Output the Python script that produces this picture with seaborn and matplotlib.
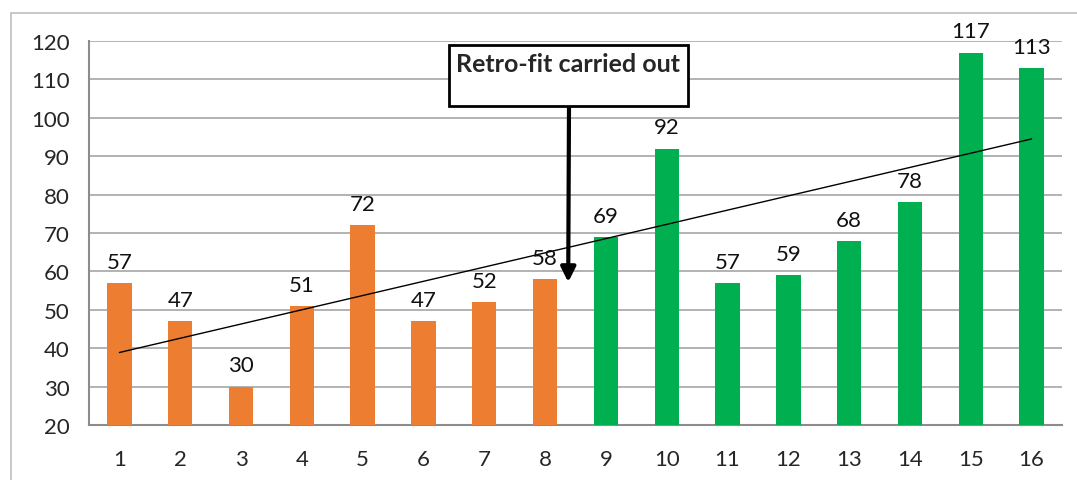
import numpy as np
import pandas as pd
import matplotlib
matplotlib.use("Agg")
import matplotlib.pyplot as plt
from matplotlib.patches import Rectangle
import seaborn as sns

# Monthly readings, before and after the retro-fit
periods = ["1", "2", "3", "4", "5", "6", "7", "8",
           "9", "10", "11", "12", "13", "14", "15", "16"]
values = [57, 47, 30, 51, 72, 47, 52, 58, 69, 92, 57, 59, 68, 78, 117, 113]
phase = ["Before"] * 8 + ["After"] * 8
phase_colors = {"Before": "#ED7D31", "After": "#00B050"}

y_ticks = [20, 30, 40, 50, 60, 70, 80, 90, 100, 110, 120]
annotation_text = "Retro-fit carried out"

df = pd.DataFrame({"period": periods, "value": values, "phase": phase})

sns.set_theme(style="white")
plt.rcParams["font.family"] = ["Lato", "DejaVu Sans"]

fig = plt.figure(figsize=(10.77, 4.81), dpi=100)
ax = fig.add_axes([89 / 1077, 1 - 426 / 481, (1062 - 89) / 1077, (426 - 42) / 481])

# Light frame around the chart area
fig.patches.append(Rectangle((11 / 1077, -0.1), 1.2, 1 - 14 / 481 + 0.1,
                             transform=fig.transFigure, fill=False,
                             edgecolor="#bfbfbf", linewidth=1.2, zorder=0))

sns.barplot(data=df, x="period", y="value", hue="phase", palette=phase_colors,
            dodge=False, width=0.4, legend=False, ax=ax, zorder=3,
            edgecolor="none", saturation=1)

# Linear trend over all periods
xs = np.arange(len(values))
slope, intercept = np.polyfit(xs + 1, values, 1)
ax.plot(xs, slope * (xs + 1) + intercept, color="black", linewidth=1, zorder=4)

# Value labels
for i, v in enumerate(values):
    ax.annotate(str(v), (i, v), xytext=(0, 8), textcoords="offset points",
                ha="center", va="bottom", fontsize=16, color="#111111", zorder=5)

ax.set_ylim(20, 120)
ax.set_xlim(-0.5, len(values) - 0.5)
ax.set_yticks(y_ticks)
ax.set_yticklabels([str(t) for t in y_ticks], fontsize=16)
ax.tick_params(axis="x", labelsize=16, length=0, pad=17)
ax.tick_params(axis="y", length=7, width=1.2, color="#8c8c8c", direction="out", pad=7)
ax.set_xlabel("")
ax.set_ylabel("")

# Category-boundary tick marks on the x axis
ax.set_xticks(np.arange(-0.5, len(values), 1.0), minor=True)
ax.tick_params(axis="x", which="minor", length=7, width=1.2, color="#8c8c8c", direction="out")

ax.grid(axis="y", color="#a6a6a6", linewidth=1.2, zorder=0)
ax.set_axisbelow(True)
for side in ["top", "right"]:
    ax.spines[side].set_visible(False)
for side in ["left", "bottom"]:
    ax.spines[side].set_color("#8c8c8c")
    ax.spines[side].set_linewidth(1.5)

# Annotation box with downward arrow
box_x0, box_x1 = 449, 688
box_y0, box_y1 = 46, 107
fig.patches.append(Rectangle((box_x0 / 1077, 1 - box_y1 / 481),
                             (box_x1 - box_x0) / 1077, (box_y1 - box_y0) / 481,
                             transform=fig.transFigure, facecolor="white",
                             edgecolor="black", linewidth=2, zorder=10))
fig.text((box_x0 + box_x1) / 2 / 1077, 1 - 64 / 481, annotation_text,
         ha="center", va="center", fontsize=18, fontweight="bold", zorder=11)
ax.annotate("", xy=(7.38, 57.2), xycoords="data",
            xytext=(569 / 1077, 1 - 107 / 481), textcoords="figure fraction",
            arrowprops=dict(arrowstyle="-|>", color="black", lw=3,
                            mutation_scale=22, shrinkA=0, shrinkB=0),
            zorder=9)

fig.savefig("out.png", dpi=100)
